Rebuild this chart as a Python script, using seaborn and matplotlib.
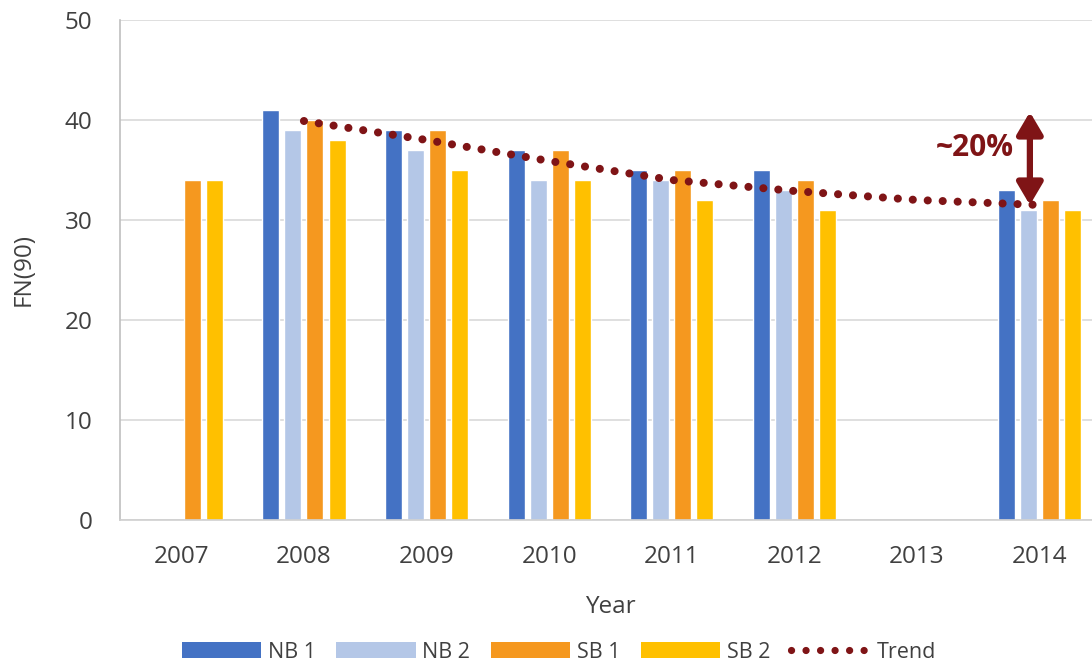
import matplotlib
matplotlib.use("Agg")
import matplotlib.pyplot as plt
from matplotlib.patches import Patch
from matplotlib.lines import Line2D
import numpy as np
import pandas as pd
import seaborn as sns

# Data
years = ["2007", "2008", "2009", "2010", "2011", "2012", "2013", "2014"]
nb1 = [np.nan, 41, 39, 37, 35, 35, np.nan, 33]
nb2 = [np.nan, 39, 37, 34, 34, 33, np.nan, 31]
sb1 = [34, 40, 39, 37, 35, 34, np.nan, 32]
sb2 = [34, 38, 35, 34, 32, 31, np.nan, 31]
series = ["NB 1", "NB 2", "SB 1", "SB 2"]
trend_years = ["2008", "2009", "2010", "2011", "2012", "2013", "2014"]
trend = [39.9, 38.0, 35.9, 34.0, 32.9, 32.0, 31.5]

colors = ["#4472C4", "#B4C7E7", "#F5981F", "#FFC000"]
trend_color = "#7F1416"
text_color = "#404040"

df = pd.DataFrame({"Year": years, "NB 1": nb1, "NB 2": nb2, "SB 1": sb1, "SB 2": sb2})
long = df.melt(id_vars="Year", var_name="Series", value_name="FN90")

sns.set_theme(style="white")
plt.rcParams["font.family"] = ["Open Sans", "DejaVu Sans"]

fig = plt.figure(figsize=(10.92, 6.66), dpi=100)
ax = fig.add_axes([120 / 1092, 146 / 666, 981 / 1092, 500 / 666])

sns.barplot(data=long, x="Year", y="FN90", hue="Series", order=years,
            hue_order=series, palette=colors, width=0.72, gap=0.23,
            saturation=1, errorbar=None, legend=False, ax=ax, zorder=2)

# Trend line drawn at the category positions
tx = [years.index(y) for y in trend_years]
ax.plot(tx, trend, color=trend_color, lw=5.8, linestyle=(0, (0.01, 1.85)),
        dash_capstyle="round", zorder=4)

# ~20% change marker
xa = 6.92
ax.annotate("", xy=(xa, 31.5), xytext=(xa, 40.8),
            arrowprops=dict(arrowstyle="<|-|>,head_length=1.1,head_width=0.65",
                            lw=4.5, color=trend_color, shrinkA=0, shrinkB=0),
            zorder=5)
ax.text(6.47, 37.2, "~20%", color=trend_color, fontsize=21.5, fontweight="bold",
        ha="center", va="center", zorder=5)

ax.set_xlim(-0.5, 7.5)
ax.set_ylim(0, 50)
ax.set_yticks(range(0, 51, 10))
ax.yaxis.grid(True, color="#D9D9D9", lw=1.2, zorder=0)
ax.set_axisbelow(True)
for s in ["top", "right"]:
    ax.spines[s].set_visible(False)
ax.spines["left"].set_color("#BFBFBF")
ax.spines["bottom"].set_color("#D0D0D0")
ax.spines["left"].set_linewidth(1.2)
ax.spines["bottom"].set_linewidth(1.2)
ax.tick_params(axis="both", length=0, labelsize=17.5, labelcolor=text_color)
ax.tick_params(axis="y", pad=20)
ax.tick_params(axis="x", pad=18)
ax.set_xlabel("Year", fontsize=17.5, color=text_color, labelpad=19)
ax.set_ylabel("FN(90)", fontsize=17.5, color=text_color, labelpad=21)

handles = [Patch(facecolor=c, edgecolor="none") for c in colors]
handles.append(Line2D([0], [0], color=trend_color, lw=5.2,
                      linestyle=(0, (0.01, 2.0)), dash_capstyle="round"))
labels = series + ["Trend"]
fig.legend(handles, labels, loc="center", bbox_to_anchor=(559 / 1092, 1 - 652 / 666),
           ncol=5, frameon=False, fontsize=15.5, handlelength=3.7,
           handleheight=0.7, handletextpad=0.3, columnspacing=0.95,
           labelcolor=text_color)

fig.savefig("out.png", dpi=100)
